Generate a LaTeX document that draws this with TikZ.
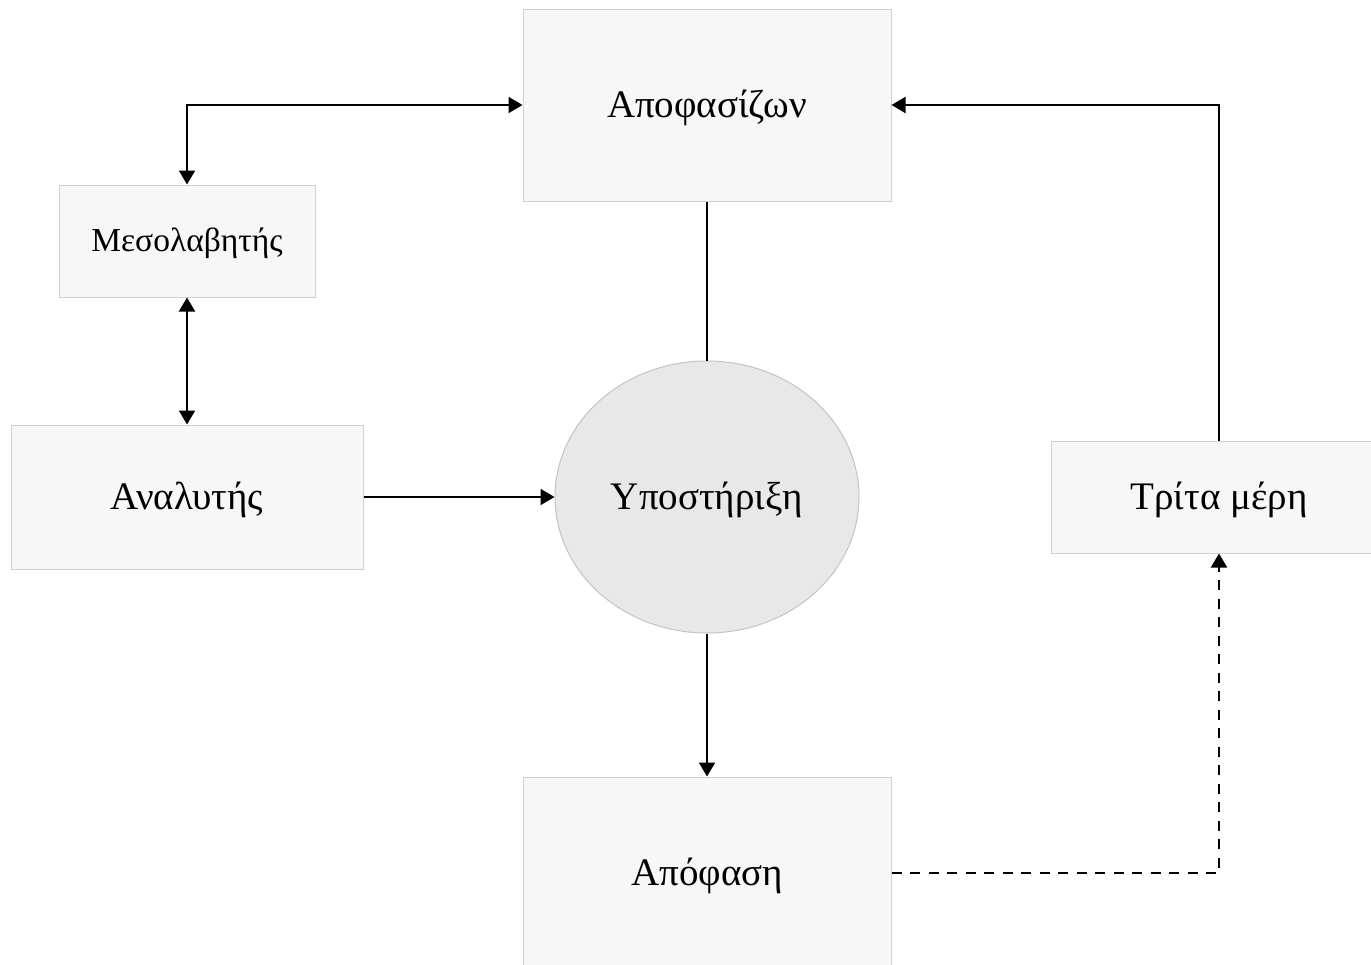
\documentclass[tikz,border=0pt]{standalone}
\usepackage{fontspec}
\setmainfont{Liberation Serif}
\usetikzlibrary{arrows.meta,shapes.geometric}
\definecolor{boxgray}{HTML}{F7F7F7}
\definecolor{bordergray}{HTML}{D0D0D0}
\definecolor{ellgray}{HTML}{E8E8E8}
\definecolor{ellborder}{HTML}{C4C4C4}
\begin{document}
\begin{tikzpicture}[x=1pt,y=-1pt,
  box/.style={draw=bordergray, fill=boxgray, line width=1pt, inner sep=0pt, text height=27pt, text depth=2pt, font=\fontsize{39}{44}\selectfont},
  smallbox/.style={box, text height=23pt, text depth=1.5pt, font=\fontsize{33.5}{38}\selectfont},
  tipa/.tip={Triangle[length=14pt,width=16pt]},
  conn/.style={line width=2pt, -tipa},
  dbl/.style={line width=2pt, tipa-tipa},
  plain/.style={line width=2pt},
  dashconn/.style={conn, dash pattern=on 10pt off 8.5pt}]
\useasboundingbox (0,0) rectangle (1371,964);
\fill[white] (0,0) rectangle (1371,964);
\node[box, minimum width=368pt, minimum height=192pt] (dec) at (707,105) {Αποφασίζων};
\node[smallbox, minimum width=256pt, minimum height=112pt] (med) at (187,241) {Μεσολαβητής};
\node[box, minimum width=352pt, minimum height=144pt] (ana) at (187,497) {Αναλυτής};
\node[ellipse, draw=ellborder, fill=ellgray, line width=1pt, inner sep=0pt, minimum width=304pt, minimum height=272pt, text height=27pt, text depth=2pt, font=\fontsize{39}{44}\selectfont] (sup) at (707,497) {Υποστήριξη};
\node[box, minimum width=336pt, minimum height=112pt] (third) at (1219,497) {Τρίτα μέρη};
\node[box, minimum width=368pt, minimum height=192pt] (apo) at (707,873) {Απόφαση};
\draw[dbl] (med.north) |- (dec.west);
\draw[dbl] (med.south) -- (ana.north);
\draw[conn] (ana.east) -- (sup.west);
\draw[plain] (dec.south) -- (sup.north);
\draw[conn] (sup.south) -- (apo.north);
\draw[conn] (third.north) |- (dec.east);
\draw[dashconn] (apo.east) -| (third.south);
\end{tikzpicture}
\end{document}
